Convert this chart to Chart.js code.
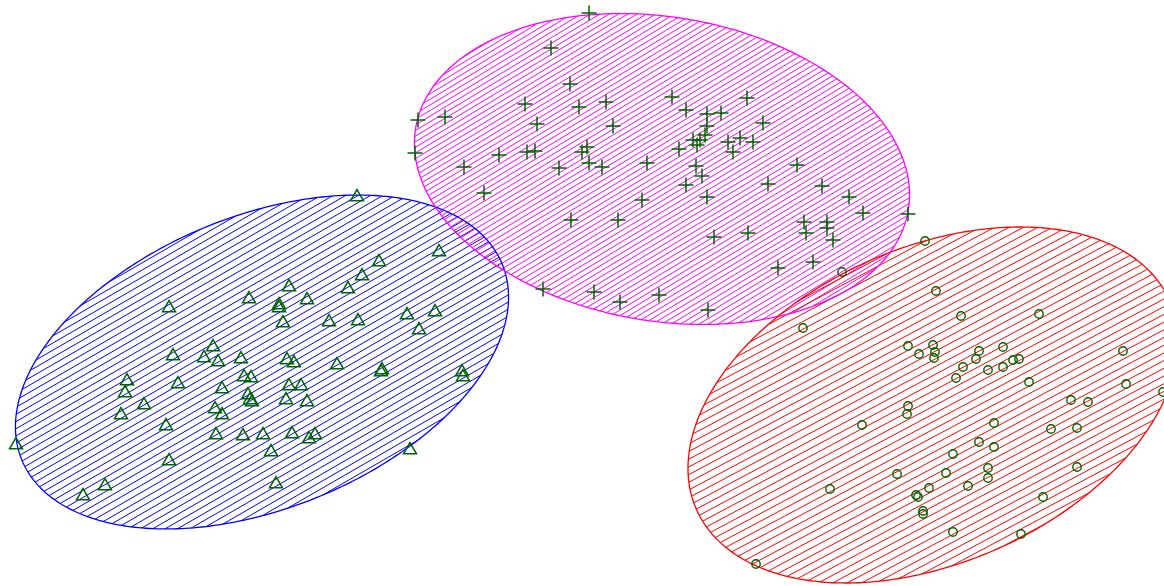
<!DOCTYPE html>
<html>
<head>
<meta charset="utf-8">
<script src="https://cdn.jsdelivr.net/npm/chart.js@4/dist/chart.umd.min.js"></script>
<style>
  html, body { margin: 0; padding: 0; background: #ffffff; }
  #wrap { width: 1164px; height: 586px; position: relative; }
</style>
</head>
<body>
<div id="wrap"><canvas id="plot"></canvas></div>
<script>
// Group 1 (triangles)
const groupAx = [357,439,379,362,348,289,249,307,279,279,169,283,329,358,407,435,419,213,173,204,
                 218,241,287,294,337,382,381,462,463,127,125,178,244,251,222,289,301,248,250,252,
                 144,215,222,286,307,121,166,216,243,263,292,309,315,271,410,16,169,276,105,83];
const groupAy = [389,334,324,310,297,299,287,286,281,278,278,263,264,265,271,274,256,239,230,228,
                 224,227,226,223,221,216,214,214,209,205,193,202,209,208,197,200,200,191,186,184,
                 181,177,171,186,184,171,160,151,150,151,152,147,151,134,136,141,125,102,100,90];

// Group 2 (crosses)
const groupBx = [589,551,570,525,579,606,418,445,537,613,672,686,707,721,747,707,763,693,700,705,
                 697,728,740,753,733,679,415,499,527,535,587,582,589,602,464,559,647,696,702,797,
                 686,768,822,484,707,642,849,908,863,571,618,804,806,827,827,833,714,748,778,813,
                 543,594,620,659,708];
const groupBy = [573,538,502,482,479,484,466,469,462,460,489,476,472,473,488,460,463,446,446,451,
                 441,444,448,444,434,437,433,431,434,435,439,434,423,419,419,418,423,420,410,421,
                 401,402,400,393,389,386,389,372,373,366,366,364,353,364,358,346,349,353,318,324,
                 297,294,284,291,276];

// Group 3 (circles)
const groupCx = [925,842,936,961,1039,803,908,919,933,935,934,979,1003,976,963,988,1003,1013,1019,956,
                 1029,1123,1126,1071,1088,1163,908,907,862,994,1051,1077,979,994,953,897,946,988,988,1077,
                 968,929,916,918,830,923,923,1043,953,1021,756];
const groupCy = [345,314,295,270,272,258,240,232,241,234,228,235,239,227,219,216,219,226,227,208,
                 204,235,202,186,184,194,180,172,161,163,157,158,144,139,132,112,113,118,108,119,
                 100,98,91,89,97,75,72,89,54,52,22];

// Cluster ellipses: centre, semi-axes and rotation (degrees) in data units
const ellipseCx    = [262, 662, 933];
const ellipseCy    = [224, 417, 181];
const ellipseA     = [259.4, 249.7, 258.6];
const ellipseB     = [146.2, 152.0, 157.6];
const ellipseAngle = [22.1, -9.5, 23.8];

// Drawing styles for each ellipse
const ellipseColor   = ['#0000ff', '#ff00ff', '#ff0000'];
const hatchSpacing   = [6.2, 4.8, 6.8];
const hatchAngle     = [30, 31, 28];

const toPoints = (xs, ys) => xs.map((v, i) => ({ x: v, y: ys[i] }));

const hatchedEllipses = {
  id: 'hatchedEllipses',
  beforeDatasetsDraw(chart) {
    const { ctx, chartArea, scales } = chart;
    const xs = scales.x, ys = scales.y;
    const paths = [];
    for (let k = 0; k < ellipseCx.length; k++) {
      const th = ellipseAngle[k] * Math.PI / 180;
      const c = Math.cos(th), s = Math.sin(th);
      const p = new Path2D();
      const N = 360;
      for (let i = 0; i <= N; i++) {
        const t = 2 * Math.PI * i / N;
        const u = ellipseA[k] * Math.cos(t), v = ellipseB[k] * Math.sin(t);
        const px = xs.getPixelForValue(ellipseCx[k] + u * c - v * s);
        const py = ys.getPixelForValue(ellipseCy[k] + u * s + v * c);
        if (i === 0) p.moveTo(px, py); else p.lineTo(px, py);
      }
      p.closePath();
      paths.push(p);
    }
    ctx.save();
    ctx.beginPath();
    ctx.rect(chartArea.left, chartArea.top, chartArea.width, chartArea.height);
    ctx.clip();
    paths.forEach((p, k) => {
      const cxp = xs.getPixelForValue(ellipseCx[k]);
      const cyp = ys.getPixelForValue(ellipseCy[k]);
      const phi = hatchAngle[k] * Math.PI / 180;
      const dx = Math.cos(phi), dy = -Math.sin(phi);
      const nx = Math.sin(phi), ny = Math.cos(phi);
      const R = 400;
      ctx.save();
      ctx.clip(p);
      ctx.strokeStyle = ellipseColor[k];
      ctx.lineWidth = 1;
      ctx.beginPath();
      for (let off = -R; off <= R; off += hatchSpacing[k]) {
        const ox = cxp + nx * off, oy = cyp + ny * off;
        ctx.moveTo(ox - dx * R, oy - dy * R);
        ctx.lineTo(ox + dx * R, oy + dy * R);
      }
      ctx.stroke();
      ctx.restore();
    });
    paths.forEach((p, k) => {
      ctx.strokeStyle = ellipseColor[k];
      ctx.lineWidth = 1.3;
      ctx.stroke(p);
    });
    ctx.restore();
  }
};

const markColor = '#006400';

new Chart(document.getElementById('plot'), {
  type: 'scatter',
  data: {
    datasets: [
      { label: '1', data: toPoints(groupAx, groupAy), pointStyle: 'triangle', pointRadius: 7.5,
        borderColor: markColor, backgroundColor: 'rgba(0,0,0,0)', borderWidth: 1.5 },
      { label: '2', data: toPoints(groupBx, groupBy), pointStyle: 'cross', pointRadius: 7.5,
        borderColor: markColor, backgroundColor: 'rgba(0,0,0,0)', borderWidth: 1.5 },
      { label: '3', data: toPoints(groupCx, groupCy), pointStyle: 'circle', pointRadius: 4.2,
        borderColor: markColor, backgroundColor: 'rgba(0,0,0,0)', borderWidth: 1.4 }
    ]
  },
  options: {
    responsive: true,
    maintainAspectRatio: false,
    animation: false,
    events: [],
    layout: { padding: 0, autoPadding: false },
    plugins: { legend: { display: false }, tooltip: { enabled: false } },
    scales: {
      x: { type: 'linear', min: 0, max: 1164, display: false },
      y: { type: 'linear', min: 0, max: 586, display: false }
    }
  },
  plugins: [hatchedEllipses]
});
</script>
</body>
</html>
